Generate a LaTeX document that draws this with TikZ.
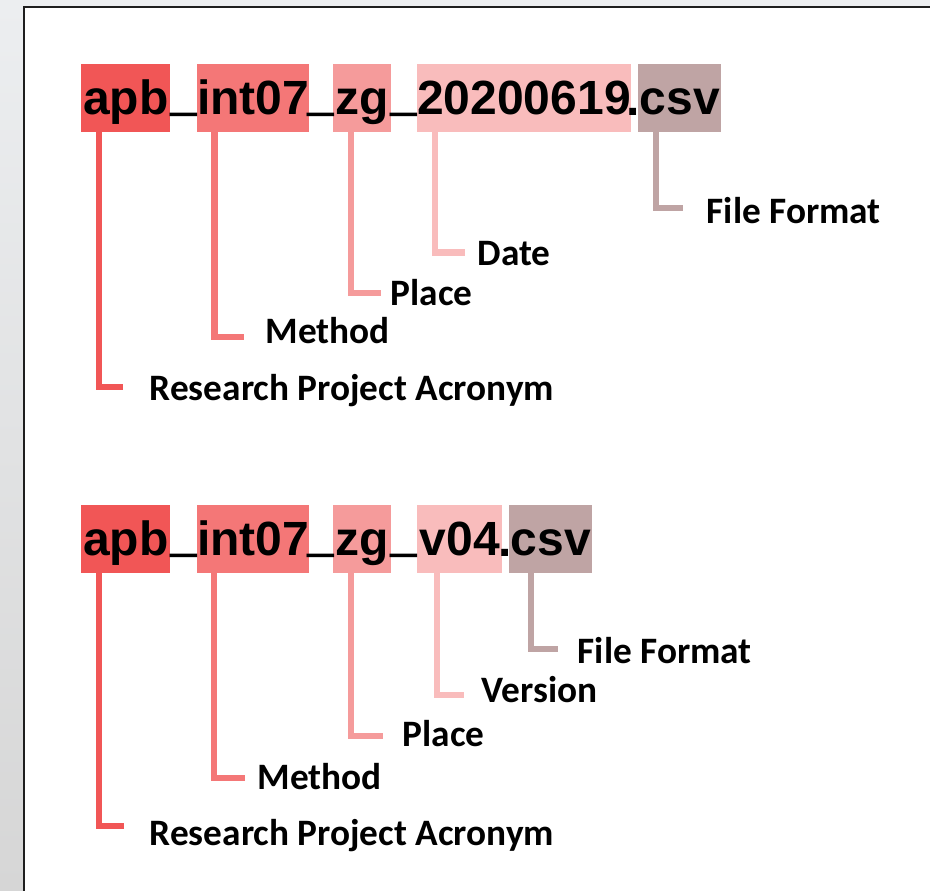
\documentclass[tikz,border=0pt]{standalone}
\usepackage{fontspec}
\setmainfont{Liberation Sans}
\newfontfamily\fnfont{Liberation Sans}
\newfontfamily\lbfont{Carlito}
\definecolor{cA}{HTML}{F15656}
\definecolor{cB}{HTML}{F47777}
\definecolor{cC}{HTML}{F59B9B}
\definecolor{cD}{HTML}{F9BCBC}
\definecolor{cE}{HTML}{BFA4A4}
\definecolor{grayTop}{HTML}{ECEEF0}
\definecolor{grayBot}{HTML}{D6D6D6}
\definecolor{frameline}{HTML}{1E1E1E}
\newcommand{\uscore}{\raisebox{9.5pt}{\scalebox{1}[1.9]{\char"5F\relax}}}
\tikzset{
  seg/.style={rectangle, fill=#1, inner xsep=0pt, inner ysep=0pt,
    text height=51pt, text depth=17pt, anchor=south west,
    font=\fnfont\bfseries\fontsize{48pt}{48pt}\selectfont},
  sepch/.style={inner sep=0pt, anchor=base,
    font=\fnfont\bfseries\fontsize{48pt}{48pt}\selectfont},
  lab/.style={inner sep=0pt, anchor=base west,
    font=\lbfont\bfseries\fontsize{37.3pt}{37.3pt}\selectfont},
  con/.style={draw=#1, line width=6.5pt, line join=miter, line cap=butt},
}
\begin{document}
\begin{tikzpicture}[x=1pt,y=-1pt]
\useasboundingbox (0,0) rectangle (930,891);
% surrounding window background
\fill[grayTop] (0,0) rectangle (930,891);
\shade[top color=grayTop, bottom color=grayBot] (0,0) rectangle (24,891);
\fill[white] (24,7) rectangle (930,891);
\draw[frameline, line width=2pt] (23.5,891) -- (23.5,7) -- (930,7);

% ---------- top file name ----------
\node[seg=cA, minimum width=89pt]  (apb1) at (81,132)  {apb};
\node[seg=cB, minimum width=111pt] (int1) at (197,132) {int07};
\node[seg=cC, minimum width=58pt]  (zg1)  at (333,132) {zg};
\node[seg=cD, minimum width=210pt] (dt1)  at (417,132) {20200619};
\node[seg=cE, minimum width=83pt]  (csv1) at (638,132) {csv};
\node[sepch] (u11) at (183.5,115) {\uscore};
\node[sepch] (u12) at (320.5,115) {\uscore};
\node[sepch] (u13) at (404,115)   {\uscore};
\node[sepch] (p1)  at (633,115)   {.};

\node[lab] (rpa1) at (149.5,400) {Research Project Acronym};
\node[lab] (met1) at (265.5,343) {Method};
\node[lab] (pl1)  at (390.5,305) {Place};
\node[lab] (dat1) at (477.5,265) {Date};
\node[lab] (ff1)  at (706.5,223) {File Format};

\coordinate (t11) at (123,387);
\coordinate (t12) at (244,337);
\coordinate (t13) at (381,293);
\coordinate (t14) at (465,252.5);
\coordinate (t15) at (683,208);
\draw[con=cA] ([xshift=18pt]apb1.south west)   |- (t11);
\draw[con=cB] ([xshift=17.5pt]int1.south west) |- (t12);
\draw[con=cC] ([xshift=18pt]zg1.south west)    |- (t13);
\draw[con=cD] ([xshift=18pt]dt1.south west)    |- (t14);
\draw[con=cE] ([xshift=18pt]csv1.south west)   |- (t15);

% ---------- bottom file name ----------
\node[seg=cA, minimum width=89pt]  (apb2) at (81,573)  {apb};
\node[seg=cB, minimum width=111pt] (int2) at (197,573) {int07};
\node[seg=cC, minimum width=58pt]  (zg2)  at (333,573) {zg};
\node[seg=cD, minimum width=85pt]  (v2)   at (417,573) {v04};
\node[seg=cE, minimum width=83pt]  (csv2) at (509,573) {csv};
\node[sepch] (u21) at (183.5,556) {\uscore};
\node[sepch] (u22) at (320.5,556) {\uscore};
\node[sepch] (u23) at (404,556)   {\uscore};
\node[sepch] (p2)  at (505.5,556) {.};

\node[lab] (rpa2) at (149.5,845) {Research Project Acronym};
\node[lab] (met2) at (257.5,789) {Method};
\node[lab] (pl2)  at (402.5,746) {Place};
\node[lab] (ver2) at (481.5,702) {Version};
\node[lab] (ff2)  at (577.5,663) {File Format};

\coordinate (t21) at (124,826);
\coordinate (t22) at (245,778);
\coordinate (t23) at (383,736);
\coordinate (t24) at (464,695);
\coordinate (t25) at (558,649);
\draw[con=cA] ([xshift=18pt]apb2.south west) |- (t21);
\draw[con=cB] ([xshift=17pt]int2.south west) |- (t22);
\draw[con=cC] ([xshift=18pt]zg2.south west)  |- (t23);
\draw[con=cD] ([xshift=20pt]v2.south west)   |- (t24);
\draw[con=cE] ([xshift=22pt]csv2.south west) |- (t25);
\end{tikzpicture}
\end{document}
